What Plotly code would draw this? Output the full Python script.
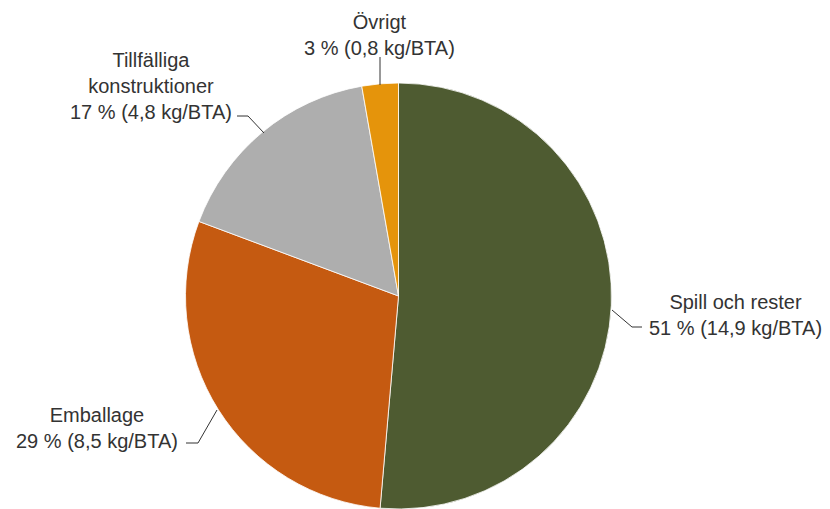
import plotly.graph_objects as go

# Data
categories = ["Spill och rester", "Emballage", "Tillfälliga<br>konstruktioner", "Övrigt"]
values_kg = [14.9, 8.5, 4.8, 0.8]
colors = ["#4E5B31", "#C55A11", "#AEAEAE", "#E5940B"]

# page body has an 8px margin, so the figure is sized to the visible area
OFF = 8
W, H = 830 - OFF, 509 - OFF
total = sum(values_kg)

def px(x):
    return (x - OFF) / W

def py(y):
    return 1 - (y - OFF) / H

# label block centers (screen pixels) and leader polylines (screen pixels)
label_pos = [(735, 315), (97, 428), (151, 86), (379, 35)]
leaders = [
    [(612, 310), (632, 327), (642, 327)],
    [(217, 410), (198, 443), (186, 443)],
    [(264, 133), (248, 116), (237, 116)],
    [(380, 85), (380, 57)],
]

R = 213
CX = 398.5 - OFF

fig = go.Figure()
fig.add_trace(go.Pie(
    labels=categories,
    values=values_kg,
    sort=False,
    direction="clockwise",
    rotation=0,
    textinfo="none",
    hoverinfo="label+value+percent",
    marker=dict(colors=colors, line=dict(color="white", width=0.8)),
    showlegend=False,
    domain=dict(x=[(CX - R) / W, (CX + R) / W], y=[0, 2 * R / H]),
))

annotations = []
for cat, v, (cx, cy) in zip(categories, values_kg, label_pos):
    pct = round(v / total * 100)
    txt = f"{cat}<br>{pct} % ({str(v).replace('.', ',')} kg/BTA)"
    annotations.append(dict(
        x=px(cx), y=py(cy), xref="paper", yref="paper",
        text=txt, showarrow=False, align="center",
        xanchor="center", yanchor="middle",
        font=dict(family="Liberation Sans, Arial, sans-serif", size=20, color="#333333"),
    ))

shapes = []
for pts in leaders:
    for (x0, y0), (x1, y1) in zip(pts[:-1], pts[1:]):
        shapes.append(dict(type="line", xref="paper", yref="paper",
                           x0=px(x0), y0=py(y0), x1=px(x1), y1=py(y1),
                           line=dict(color="#333333", width=1)))

fig.update_layout(
    width=W, height=H,
    margin=dict(l=0, r=0, t=0, b=0),
    paper_bgcolor="white", plot_bgcolor="white",
    annotations=annotations, shapes=shapes,
)

fig.write_html("out.html")
